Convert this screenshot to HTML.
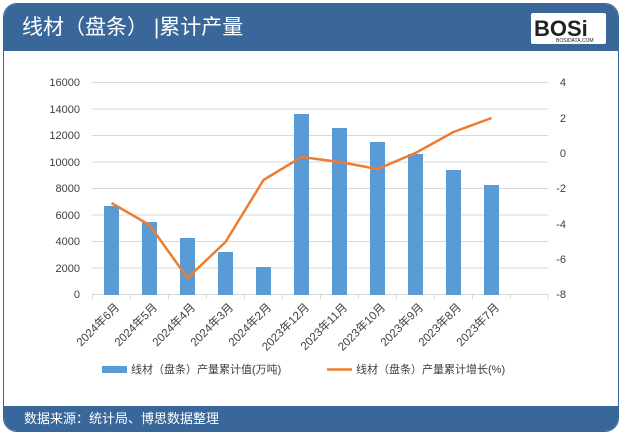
<!DOCTYPE html>
<html><head><meta charset="utf-8"><style>
body{margin:0;width:622px;height:435px;background:#fff;overflow:hidden;font-family:"Liberation Sans","Noto Sans CJK SC",sans-serif}
.frame{position:absolute;left:3px;top:3px;width:614px;height:427px;border:1px solid #3a679a;border-radius:14px;overflow:hidden;background:#fff}
.hdr{position:absolute;left:0;top:0;width:100%;height:47px;background:#3a679a}
.ftr{position:absolute;left:0;top:402px;width:100%;height:26px;background:#3a679a}
</style></head><body>
<div class="frame">
<div class="hdr"></div>
<div class="ftr"></div>
</div>
<svg width="622" height="435" style="position:absolute;left:0;top:0" font-family="Liberation Sans, Noto Sans CJK SC, sans-serif">
<text x="22" y="34" font-size="21" fill="#fff">线材（盘条） |累计产量</text>
<rect x="531" y="13" width="75" height="31" fill="#fff" rx="2"/>
<text x="534" y="36" font-size="22" font-weight="bold" fill="#222">BOSi</text>
<text x="556" y="42" font-size="5" fill="#222">BOSIDATA.COM</text>
<text x="24" y="423" font-size="13" fill="#fff">数据来源：统计局、博思数据整理</text>
<g stroke="#d9d9d9" stroke-width="1">
<line x1="92" x2="548" y1="82.5" y2="82.5"/><line x1="92" x2="548" y1="109" y2="109"/><line x1="92" x2="548" y1="135.5" y2="135.5"/><line x1="92" x2="548" y1="162" y2="162"/><line x1="92" x2="548" y1="188.5" y2="188.5"/><line x1="92" x2="548" y1="215" y2="215"/><line x1="92" x2="548" y1="241.5" y2="241.5"/><line x1="92" x2="548" y1="268" y2="268"/><line x1="92" x2="548" y1="294.5" y2="294.5"/>
<line x1="92.5" x2="92.5" y1="294" y2="299"/><line x1="130.5" x2="130.5" y1="294" y2="299"/><line x1="168.5" x2="168.5" y1="294" y2="299"/><line x1="206.5" x2="206.5" y1="294" y2="299"/><line x1="244.5" x2="244.5" y1="294" y2="299"/><line x1="282.5" x2="282.5" y1="294" y2="299"/><line x1="320.5" x2="320.5" y1="294" y2="299"/><line x1="358.5" x2="358.5" y1="294" y2="299"/><line x1="396.5" x2="396.5" y1="294" y2="299"/><line x1="434.5" x2="434.5" y1="294" y2="299"/><line x1="472.5" x2="472.5" y1="294" y2="299"/><line x1="510.5" x2="510.5" y1="294" y2="299"/><line x1="548" x2="548" y1="294" y2="299"/>
</g>
<g font-size="11" fill="#404040" text-anchor="end">
<text x="80" y="86">16000</text><text x="80" y="113">14000</text><text x="80" y="139">12000</text><text x="80" y="166">10000</text><text x="80" y="192">8000</text><text x="80" y="219">6000</text><text x="80" y="245">4000</text><text x="80" y="272">2000</text><text x="80" y="298">0</text>
</g>
<g font-size="11" fill="#404040" text-anchor="end">
<text x="566" y="86">4</text><text x="566" y="122">2</text><text x="566" y="157">0</text><text x="566" y="192">-2</text><text x="566" y="228">-4</text><text x="566" y="263">-6</text><text x="566" y="298">-8</text>
</g>
<g fill="#5b9bd5">
<rect x="104" y="206" width="15" height="89"/>
<rect x="142" y="222" width="15" height="73"/>
<rect x="180" y="238" width="15" height="57"/>
<rect x="218" y="252" width="15" height="43"/>
<rect x="256" y="267" width="15" height="28"/>
<rect x="294" y="114" width="15" height="181"/>
<rect x="332" y="128" width="15" height="167"/>
<rect x="370" y="142" width="15" height="153"/>
<rect x="408" y="154" width="15" height="141"/>
<rect x="446" y="170" width="15" height="125"/>
<rect x="484" y="185" width="15" height="110"/>
</g>
<polyline fill="none" stroke="#ed7d31" stroke-width="2.5" stroke-linejoin="round" points="111.5,203 149.5,225 187.5,278 225.5,242 263.5,180 301.5,157 339.5,162 377.5,169 415.5,153 453.5,132 491.5,118"/>
<g font-size="11.5" fill="#404040" text-anchor="end">
<text transform="translate(120,308) rotate(-45)">2024年6月</text>
<text transform="translate(158,308) rotate(-45)">2024年5月</text>
<text transform="translate(196,308) rotate(-45)">2024年4月</text>
<text transform="translate(234,308) rotate(-45)">2024年3月</text>
<text transform="translate(272,308) rotate(-45)">2024年2月</text>
<text transform="translate(310,308) rotate(-45)">2023年12月</text>
<text transform="translate(348,308) rotate(-45)">2023年11月</text>
<text transform="translate(386,308) rotate(-45)">2023年10月</text>
<text transform="translate(424,308) rotate(-45)">2023年9月</text>
<text transform="translate(462,308) rotate(-45)">2023年8月</text>
<text transform="translate(500,308) rotate(-45)">2023年7月</text>
</g>
<rect x="102" y="366" width="25" height="7" fill="#5b9bd5"/>
<text x="131" y="373" font-size="11" fill="#404040">线材（盘条）产量累计值(万吨)</text>
<line x1="327" x2="352" y1="369.5" y2="369.5" stroke="#ed7d31" stroke-width="2.5"/>
<text x="356" y="373" font-size="11" fill="#404040">线材（盘条）产量累计增长(%)</text>
</svg>
</body></html>
